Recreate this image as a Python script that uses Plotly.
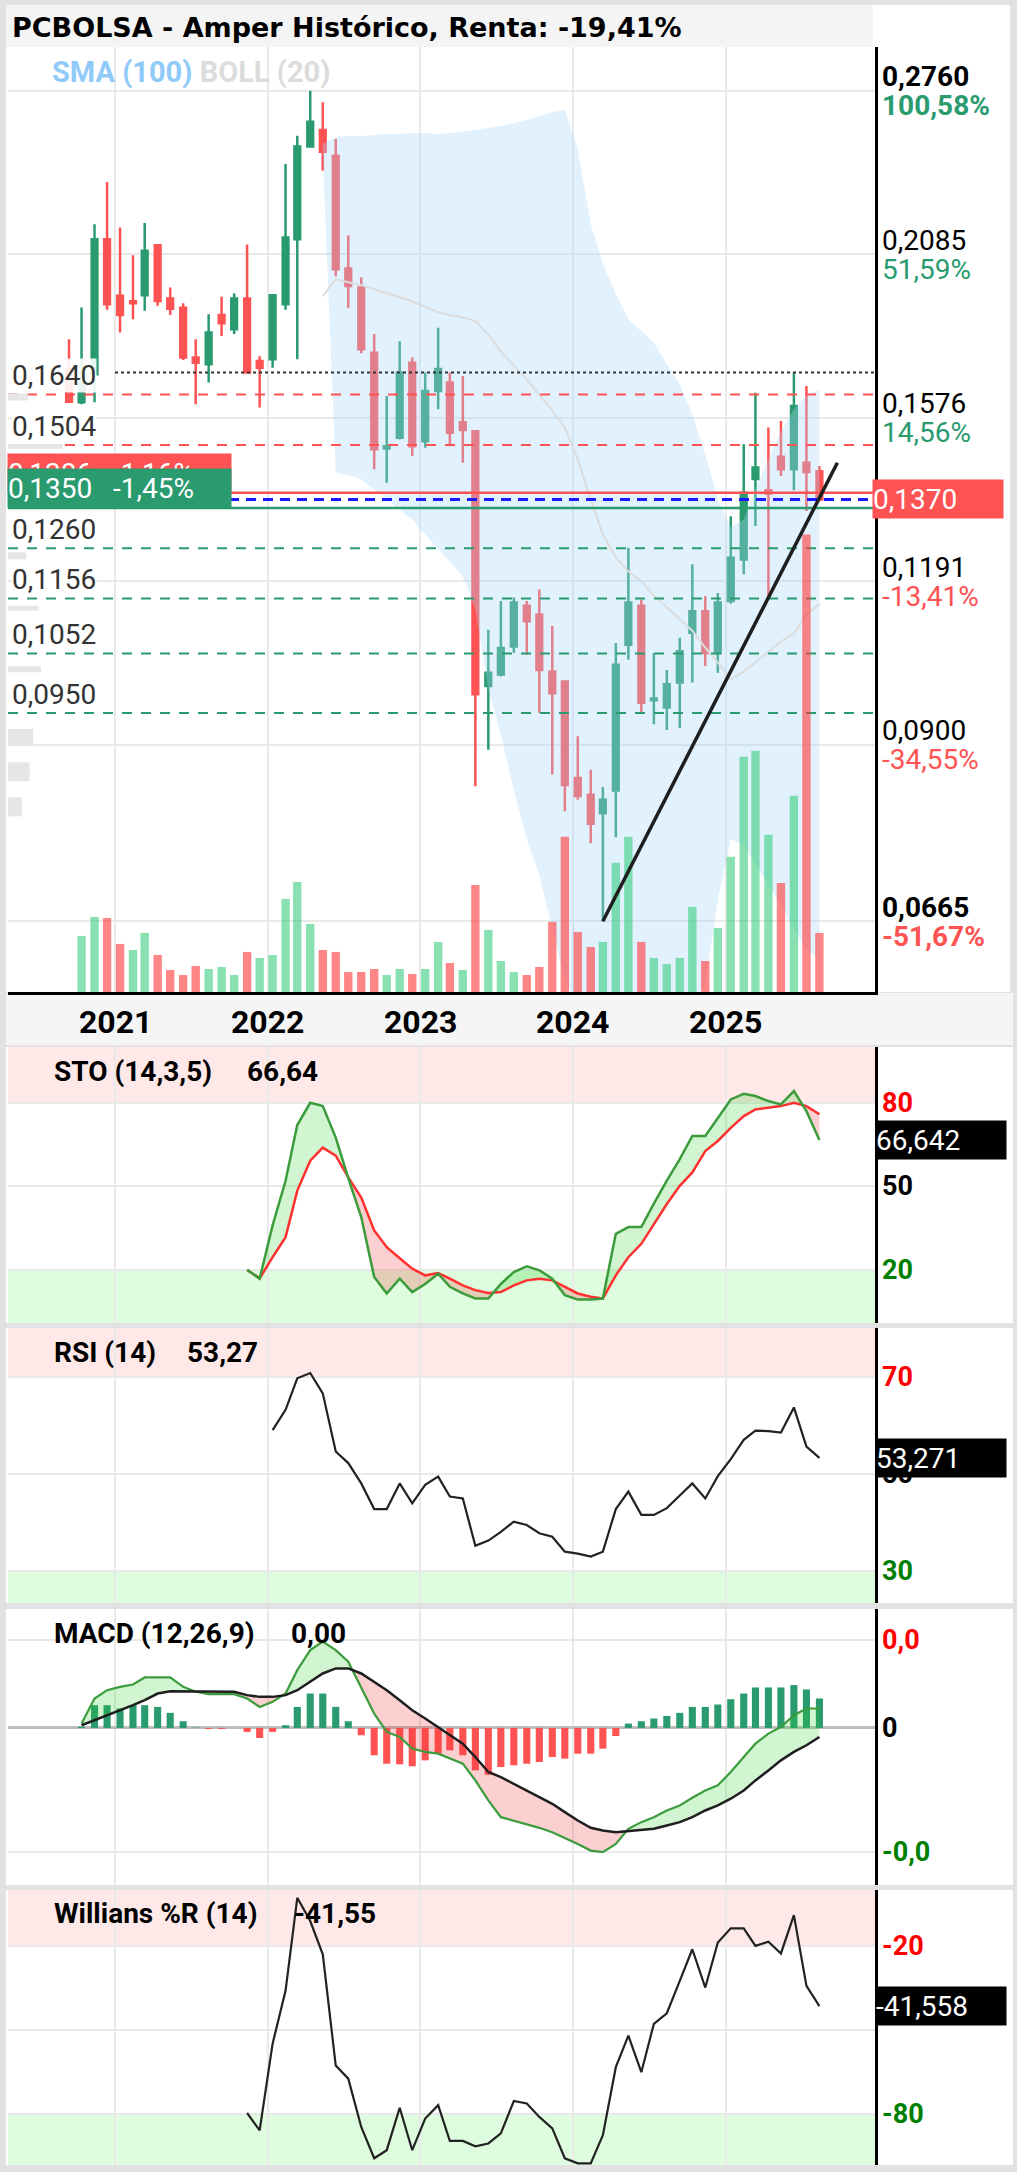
import math
import numpy as np
import pandas as pd
import plotly.graph_objects as go

W, H = 1017, 2172
def px(x): return x / W
def py(y): return 1 - y / H

# ---------------- data ----------------
month_dates = [d.strftime("%Y-%m-%d") for d in
               (pd.date_range("2020-09-01", "2025-08-01", freq="MS") + pd.Timedelta(days=12))]

open_ = [0.1713, 0.1618, 0.1698, 0.2140, 0.1942, 0.1924, 0.1944, 0.2118, 0.1933, 0.1903,
         0.1747, 0.1727, 0.1879, 0.1834, 0.1933, 0.1737, 0.1742, 0.1914, 0.2140, 0.2509,
         0.2581, 0.2469, 0.2035, 0.1970, 0.1762, 0.1495, 0.1523, 0.1732, 0.1514, 0.1650,
         0.1674, 0.1564, 0.1540, 0.0995, 0.1015, 0.1065, 0.1142, 0.1125, 0.1020, 0.1003,
         0.0850, 0.0826, 0.0800, 0.0832, 0.1068, 0.1142, 0.0971, 0.0959, 0.1001, 0.1090,
         0.1131, 0.1053, 0.1151, 0.1236, 0.1419, 0.1392, 0.1474, 0.1443, 0.1459, 0.1438]
high = [0.1803, 0.1904, 0.2196, 0.2361, 0.2183, 0.2082, 0.2200, 0.2122, 0.1970, 0.1918,
        0.1803, 0.1882, 0.1939, 0.1951, 0.2121, 0.1751, 0.1947, 0.2434, 0.2555, 0.2760,
        0.2706, 0.2541, 0.2155, 0.2004, 0.1819, 0.1636, 0.1797, 0.1747, 0.1703, 0.1839,
        0.1703, 0.1693, 0.1542, 0.1096, 0.1151, 0.1158, 0.1151, 0.1174, 0.1103, 0.1005,
        0.0913, 0.0862, 0.0837, 0.1071, 0.1261, 0.1154, 0.1053, 0.1023, 0.1081, 0.1226,
        0.1161, 0.1167, 0.1331, 0.1506, 0.1645, 0.1550, 0.1567, 0.1703, 0.1664, 0.1451]
low = [0.1617, 0.1613, 0.1618, 0.1896, 0.1824, 0.1866, 0.1893, 0.1909, 0.1879, 0.1740,
       0.1613, 0.1674, 0.1813, 0.1819, 0.1701, 0.1604, 0.1717, 0.1896, 0.1742, 0.2505,
       0.2406, 0.2008, 0.1903, 0.1760, 0.1443, 0.1410, 0.1518, 0.1476, 0.1497, 0.1599,
       0.1501, 0.1459, 0.0838, 0.0892, 0.1012, 0.1053, 0.1050, 0.0950, 0.0855, 0.0803,
       0.0819, 0.0760, 0.0665, 0.0768, 0.1041, 0.0950, 0.0932, 0.0923, 0.0926, 0.1001,
       0.1030, 0.1018, 0.1146, 0.1205, 0.1309, 0.1161, 0.1426, 0.1392, 0.1343, 0.1370]
close = [0.1620, 0.1669, 0.2140, 0.1914, 0.1879, 0.1918, 0.2098, 0.1925, 0.1900, 0.1747,
         0.1732, 0.1824, 0.1853, 0.1933, 0.1703, 0.1717, 0.1944, 0.2146, 0.2509, 0.2617,
         0.2486, 0.2033, 0.1975, 0.1772, 0.1493, 0.1501, 0.1703, 0.1501, 0.1650, 0.1713,
         0.1536, 0.1543, 0.0981, 0.1018, 0.1062, 0.1148, 0.1112, 0.1023, 0.0983, 0.0840,
         0.0824, 0.0786, 0.0819, 0.1032, 0.1148, 0.0967, 0.0974, 0.0998, 0.1056, 0.1131,
         0.1053, 0.1148, 0.1240, 0.1386, 0.1447, 0.1384, 0.1443, 0.1608, 0.1436, 0.1370]
volume = [0.0, 5.6, 7.5, 7.4, 4.8, 4.2, 5.9, 3.7, 2.2, 1.7,
          2.6, 2.3, 2.5, 1.7, 4.0, 3.4, 3.7, 9.3, 11.0, 6.8,
          4.2, 4.0, 2.0, 2.0, 2.3, 1.7, 2.3, 1.8, 2.3, 5.0,
          2.9, 2.2, 10.7, 6.2, 3.1, 2.0, 1.7, 2.5, 7.0, 15.5,
          6.0, 4.5, 5.0, 12.9, 15.5, 5.0, 3.4, 2.8, 3.4, 8.5,
          3.1, 6.4, 13.5, 23.5, 24.1, 15.7, 10.9, 19.6, 45.7, 5.9]
volume_side = ["r", "g", "g", "r", "r", "g", "g", "r", "r", "r",
               "r", "g", "g", "g", "r", "g", "g", "g", "g", "g",
               "r", "r", "r", "r", "r", "g", "g", "r", "g", "g",
               "r", "g", "r", "g", "g", "g", "r", "r", "r", "r",
               "r", "r", "g", "g", "g", "r", "g", "g", "g", "g",
               "r", "g", "g", "g", "g", "g", "r", "g", "r", "r"]

# volume-by-price profile (left edge)
profile_price = [0.1633, 0.1500, 0.1244, 0.1137, 0.1024, 0.0911, 0.0859, 0.0809]
profile_size = [2.3, 6.3, 2.1, 3.5, 3.8, 2.9, 2.5, 1.6]
profile_thick = [7, 5, 7, 5, 6, 17, 19, 19]

# Bollinger (20) from May 2022 (index 20)
boll_upper = [0.2519, 0.2550, 0.2554, 0.2554, 0.2559, 0.2563, 0.2563, 0.2567, 0.2567, 0.2563,
              0.2567, 0.2572, 0.2580, 0.2589, 0.2598, 0.2611, 0.2625, 0.2643, 0.2661, 0.2670,
              0.2497, 0.2196, 0.2051, 0.1947, 0.1866, 0.1828, 0.1794, 0.1727, 0.1669, 0.1585,
              0.1480, 0.1370, 0.1306, 0.1324, 0.1394, 0.1467, 0.1540, 0.1599, 0.1638, 0.1655]
boll_mid = [0.1941, 0.1998, 0.1988, 0.1978, 0.1964, 0.1951, 0.1938, 0.1924, 0.1905, 0.1888,
            0.1879, 0.1872, 0.1860, 0.1818, 0.1766, 0.1724, 0.1683, 0.1638, 0.1596, 0.1550,
            0.1467, 0.1370, 0.1290, 0.1241, 0.1211, 0.1191, 0.1162, 0.1139, 0.1115, 0.1094,
            0.1063, 0.1036, 0.1006, 0.1020, 0.1036, 0.1055, 0.1074, 0.1089, 0.1125, 0.1145]
boll_lower = [0.2480, 0.1435, 0.1428, 0.1418, 0.1394, 0.1370, 0.1347, 0.1324, 0.1290, 0.1258,
              0.1232, 0.1201, 0.1135, 0.0989, 0.0916, 0.0833, 0.0765, 0.0720, 0.0656, 0.0602,
              0.0572, 0.0560, 0.0520, 0.0500, 0.0500, 0.0510, 0.0520, 0.0540, 0.0560, 0.0580,
              0.0597, 0.0690, 0.0765, 0.0758, 0.0733, 0.0708, 0.0684, 0.0656, 0.0634, 0.0623]

# Stochastic (14,3,5) from Nov 2021 (index 14)
sto_k = [20.1, 16.9, 36, 52, 72, 80, 78.8, 67.5, 53, 39, 17.5, 11.6, 16.9, 12.1, 15, 18.7,
         14, 11.6, 9.8, 9.8, 15, 19.3, 21.3, 19.9, 16.9, 11, 9.4, 9.4, 9.8, 33, 35.4, 35.4,
         43.8, 52.1, 59.8, 68.1, 68.1, 74.6, 81.2, 83.2, 82.4, 80.6, 79.4, 84.2, 77, 66.64]
sto_d = [20, 17, 24.6, 31.8, 48.5, 59.2, 63.9, 61, 53.2, 46, 34.2, 28.2, 24.2, 20.5, 18.1, 18.9,
         16.9, 14.5, 12.8, 11.8, 12.1, 14.5, 16.3, 16.9, 16.3, 14, 11.6, 10.4, 9.8, 18.1, 24.6, 29.4,
         36.6, 43.7, 50.2, 55, 62.7, 66.3, 71, 75.2, 77.6, 78.2, 78.8, 80, 78.8, 75.9]

# RSI (14) from Jan 2022 (index 16)
rsi = [59, 63.2, 69.7, 70.8, 66.6, 54.6, 52.2, 48, 42.7, 42.7, 48, 43.9,
       47.7, 49.4, 45.3, 44.9, 35.1, 36.2, 38, 40.1, 39.4, 37.7, 37, 33.9,
       33.5, 32.9, 33.9, 42.7, 46.3, 41.5, 41.5, 42.9, 45.5, 48, 44.9, 49.5,
       53, 57, 58.9, 58.8, 58.5, 63.7, 55.6, 53.27]

# MACD (12,26,9) from Oct 2020 (index 1)
macd = [0.00035, 0.00238, 0.00305,
        0.00332, 0.00351, 0.00408, 0.00408, 0.00408, 0.00332, 0.00292, 0.00273, 0.00273, 0.00273, 0.00238, 0.0017,
        0.00211, 0.00278, 0.00467, 0.00629, 0.00697, 0.00629, 0.00535, 0.00332, 0.00116, -0.00032, -0.00073, -0.00167,
        -0.00194, -0.00208, -0.00248, -0.00289, -0.00424, -0.00586, -0.00721, -0.00748, -0.00775, -0.00807, -0.00842, -0.00888,
        -0.00937, -0.00991, -0.01004, -0.00937, -0.00815, -0.00761, -0.00721, -0.00667, -0.00626, -0.00564, -0.00505, -0.00464,
        -0.00356, -0.00235, -0.00127, -0.00046, 0.00008, 0.00103, 0.00157, 0.00157]
macd_signal = [0.00022, 0.00062, 0.00103,
               0.00143, 0.00184, 0.00224, 0.00278, 0.00297, 0.00297, 0.00297, 0.00297, 0.00297, 0.00292, 0.00265, 0.00251,
               0.00251, 0.00265, 0.00305, 0.00373, 0.0044, 0.00481, 0.00481, 0.0044, 0.00373, 0.00305, 0.00224, 0.00143,
               0.00076, 0.00008, -0.00059, -0.00127, -0.00235, -0.00356, -0.00397, -0.00451, -0.00505, -0.00559, -0.00613, -0.0068,
               -0.00748, -0.00807, -0.00829, -0.00842, -0.00834, -0.00829, -0.00815, -0.00788, -0.00761, -0.00721, -0.00667, -0.00626,
               -0.00572, -0.00505, -0.00424, -0.00343, -0.00262, -0.00194, -0.0014, -0.00073]
macd_hist = [0.0001, 0.00184, 0.00184,
             0.00157, 0.00184, 0.00184, 0.0017, 0.00122, 0.00054, 0.00003, -0.00008, -0.00008, 0.0, -0.00032, -0.00081,
             -0.00032, 0.00022, 0.0017, 0.00278, 0.00278, 0.0017, 0.00054, -0.00059, -0.00221, -0.00289, -0.00294, -0.0031,
             -0.00262, -0.00208, -0.00181, -0.00221, -0.00343, -0.00378, -0.00316, -0.00302, -0.00289, -0.00275, -0.00235, -0.00248,
             -0.00208, -0.00208, -0.00167, -0.00065, 0.00035, 0.00054, 0.00076, 0.00097, 0.00122, 0.0017, 0.0017, 0.00189,
             0.00232, 0.00278, 0.00327, 0.00327, 0.00327, 0.00346, 0.00311, 0.00238]

# Williams %R (14) from Nov 2021 (index 14)
willr = [-79.8, -86, -55, -36, -2.8, -11.1, -23, -62.8, -67.5, -84.8, -96, -93.1, -77.9, -93.1,
         -81.8, -77, -89.8, -89.8, -91.7, -90.7, -87.1, -75.5, -76.4, -81.2, -85.3, -96,
         -97.8, -97.8, -87.7, -63.4, -52.1, -65.2, -47.9, -44.1, -32.5, -21.2, -34.9, -18.8,
         -13.7, -13.7, -20, -18.5, -22.7, -9, -34.3, -41.56]

# levels and labels
right_levels = [0.2760, 0.2085, 0.1576, 0.1191, 0.0900, 0.0665]
right_level_txt = ["0,2760", "0,2085", "0,1576", "0,1191", "0,0900", "0,0665"]
right_pct_txt = ["100,58%", "51,59%", "14,56%", "-13,41%", "-34,55%", "-51,67%"]
resist_levels = [0.1640, 0.1504]
support_levels = [0.1260, 0.1156, 0.1052, 0.0950]
recent_high = 0.1703
line_red = 0.1386
line_blue = 0.1370
line_green = 0.1350
trend_x = ["2024-03-13", "2025-09-25"]
trend_y = [0.0665, 0.1459]
years = ["2021", "2022", "2023", "2024", "2025"]
indicator_names = ["STO (14,3,5)", "RSI (14)", "MACD (12,26,9)", "Willians %R (14)"]
indicator_values = ["66,64", "53,27", "0,00", "-41,55"]

# ---------------- style ----------------
GREEN = "#299b6f"
RED = "#ff5252"
GRID = "#e9e9e9"
FONT = "Roboto"
XR = ["2020-04-20", "2025-12-24"]
XD = [px(8), px(875)]
YEAR_TICKS = [f"{y}-01-01" for y in years]
MAIN_RANGE = [math.log10(0.0589), math.log10(0.2975)]

fig = go.Figure()

def idx_dates(start):
    return month_dates[start:]

# Bollinger band
bd = idx_dates(20)
fig.add_trace(go.Scatter(x=bd, y=boll_upper, mode="lines", line=dict(width=0, color="#d6ebfb"),
                         xaxis="x", yaxis="y", hoverinfo="skip"))
fig.add_trace(go.Scatter(x=bd, y=boll_lower, mode="lines", line=dict(width=0, color="#d6ebfb"),
                         fill="tonexty", fillcolor="rgba(170,215,248,0.35)",
                         xaxis="x", yaxis="y", hoverinfo="skip"))
fig.add_trace(go.Scatter(x=bd, y=boll_mid, mode="lines", line=dict(width=2, color="#dcdcdc"),
                         xaxis="x", yaxis="y", hoverinfo="skip"))

# volume profile bars at the left edge
for p, s, t in zip(profile_price, profile_size, profile_thick):
    fig.add_trace(go.Scatter(x=[0, s], y=[p, p], mode="lines", line=dict(color="#e6e6e6", width=t),
                             xaxis="x6", yaxis="y", hoverinfo="skip"))

# horizontal levels
def hline(y, color, dash, width, x0=XR[0], x1=XR[1], axis="y"):
    fig.add_trace(go.Scatter(x=[x0, x1], y=[y, y], mode="lines",
                             line=dict(color=color, dash=dash, width=width),
                             xaxis="x", yaxis=axis, hoverinfo="skip"))

for lv in resist_levels:
    hline(lv, RED, "10px,9px", 2)
for lv in support_levels:
    hline(lv, GREEN, "10px,9px", 2)
hline(recent_high, "#333333", "3px,3px", 2, x0="2021-01-01")
hline(line_red, RED, "solid", 2.5)
hline(line_green, GREEN, "solid", 2.5)
hline(line_blue, "#1a1aff", "10px,7px", 3)

# candles
fig.add_trace(go.Candlestick(
    x=month_dates, open=open_, high=high, low=low, close=close,
    increasing=dict(line=dict(color=GREEN, width=2.5), fillcolor=GREEN),
    decreasing=dict(line=dict(color=RED, width=2.5), fillcolor=RED),
    whiskerwidth=0, xaxis="x", yaxis="y", hoverinfo="skip"))

# volume
vcol = ["rgba(40,200,115,0.55)" if s == "g" else "rgba(255,60,60,0.62)" for s in volume_side]
fig.add_trace(go.Bar(x=month_dates, y=volume, marker=dict(color=vcol, line=dict(width=0)),
                     width=20 * 86400000, xaxis="x", yaxis="y2", hoverinfo="skip"))

# trend line
fig.add_trace(go.Scatter(x=trend_x, y=trend_y, mode="lines", line=dict(color="#1e1e1e", width=3.5),
                         xaxis="x", yaxis="y7", hoverinfo="skip"))

# ---------- helper for two-colour fills ----------
def split_fill(xs, a, b):
    t = pd.to_datetime(pd.Series(xs)).astype("int64").to_numpy() / 1e6
    X, A, B = [t[0]], [a[0]], [b[0]]
    for i in range(1, len(t)):
        d0 = a[i - 1] - b[i - 1]
        d1 = a[i] - b[i]
        if d0 * d1 < 0:
            f = d0 / (d0 - d1)
            xc = t[i - 1] + f * (t[i] - t[i - 1])
            yc = a[i - 1] + f * (a[i] - a[i - 1])
            X.append(xc); A.append(yc); B.append(yc)
        X.append(t[i]); A.append(a[i]); B.append(b[i])
    return pd.to_datetime(np.array(X), unit="ms"), np.array(A), np.array(B)

def two_fill(xs, a, b, xa, ya, up, dn):
    X, A, B = split_fill(xs, a, b)
    for top, col in ((np.maximum(A, B), up), (np.minimum(A, B), dn)):
        fig.add_trace(go.Scatter(x=X, y=B, mode="lines", line=dict(width=0), xaxis=xa, yaxis=ya, hoverinfo="skip"))
        fig.add_trace(go.Scatter(x=X, y=top, mode="lines", line=dict(width=0), fill="tonexty",
                                 fillcolor=col, xaxis=xa, yaxis=ya, hoverinfo="skip"))

UPF = "rgba(40,210,40,0.22)"
DNF = "rgba(240,40,40,0.22)"
LG = "#3c9c3c"
LR = "#ff3030"

# STO
sd = idx_dates(14)
two_fill(sd, sto_k, sto_d, "x2", "y3", UPF, DNF)
fig.add_trace(go.Scatter(x=sd, y=sto_d, mode="lines", line=dict(color=LR, width=2.5), xaxis="x2", yaxis="y3", hoverinfo="skip"))
fig.add_trace(go.Scatter(x=sd, y=sto_k, mode="lines", line=dict(color=LG, width=2.5), xaxis="x2", yaxis="y3", hoverinfo="skip"))

# RSI
fig.add_trace(go.Scatter(x=idx_dates(16), y=rsi, mode="lines", line=dict(color="#222222", width=2.2),
                         xaxis="x3", yaxis="y4", hoverinfo="skip"))

# MACD
md = idx_dates(1)
hcol = [GREEN if v >= 0 else RED for v in macd_hist]
fig.add_trace(go.Bar(x=md, y=macd_hist, marker=dict(color=hcol, line=dict(width=0)), width=17 * 86400000,
                     xaxis="x4", yaxis="y5", hoverinfo="skip"))
two_fill(md, macd, macd_signal, "x4", "y5", UPF, DNF)
fig.add_trace(go.Scatter(x=md, y=macd, mode="lines", line=dict(color=LG, width=2.2), xaxis="x4", yaxis="y5", hoverinfo="skip"))
fig.add_trace(go.Scatter(x=md, y=macd_signal, mode="lines", line=dict(color="#1e1e1e", width=2.5), xaxis="x4", yaxis="y5", hoverinfo="skip"))

# Williams
fig.add_trace(go.Scatter(x=idx_dates(14), y=willr, mode="lines", line=dict(color="#222222", width=2.2),
                         xaxis="x5", yaxis="y6", hoverinfo="skip"))

# ---------------- layout ----------------
panels = {  # name: (top px, bottom px, range, grid ticks)
    "3": (1047, 1323, [1, 100], [20, 50, 80]),
    "4": (1328, 1603, [23.3, 80.1], [30, 50, 70]),
    "5": (1609, 1885, [-0.01269, 0.00961], [-0.0100, 0.0071]),
    "6": (1890, 2165, [-98.4, 0], [-80, -50, -20]),
}

def xax(anchor, line=False):
    return dict(domain=XD, anchor=anchor, type="date", range=XR, tickvals=YEAR_TICKS,
                showticklabels=False, showgrid=True, gridcolor=GRID, gridwidth=2, ticks="",
                zeroline=False, showline=line, linecolor="black", linewidth=3,
                rangeslider=dict(visible=False), fixedrange=True)

layout = dict(
    width=W, height=H, margin=dict(l=0, r=0, t=0, b=0),
    paper_bgcolor="#e2e2e2", plot_bgcolor="rgba(0,0,0,0)",
    showlegend=False, hovermode=False, font=dict(family=FONT, color="black"),
    xaxis=xax("y", line=True),
    yaxis=dict(domain=[py(992), py(47)], anchor="x", type="log", range=MAIN_RANGE, side="right",
               tickvals=right_levels, showticklabels=False, showgrid=True, gridcolor=GRID, gridwidth=2,
               ticks="", zeroline=False, showline=True, linecolor="black", linewidth=3),
    yaxis2=dict(overlaying="y", anchor="x", range=[0, 94.4], visible=False),
    yaxis7=dict(overlaying="y", anchor="x", type="log", range=MAIN_RANGE, visible=False),
    xaxis6=dict(overlaying="x", anchor="y", range=[0, 100], visible=False, domain=XD),
)
for i, (k, (top, bot, rng, tv)) in enumerate(panels.items()):
    xn = f"xaxis{i + 2}"
    layout[xn] = xax(f"y{k}")
    layout[f"yaxis{k}"] = dict(domain=[py(bot), py(top)], anchor=f"x{i + 2}", range=rng, side="right",
                               tickvals=tv, showticklabels=False, showgrid=True, gridcolor=GRID, gridwidth=2,
                               ticks="", zeroline=(k == "5"), zerolinecolor="#bdbdbd", zerolinewidth=3,
                               showline=True, linecolor="black", linewidth=3)

shapes = []
def prect(x0, y0, x1, y1, color):
    shapes.append(dict(type="rect", xref="paper", yref="paper", x0=px(x0), x1=px(x1), y0=py(y1), y1=py(y0),
                       fillcolor=color, line=dict(width=0), layer="below"))

prect(6, 5, 1010, 992, "white")
prect(6, 5, 873, 47, "#f4f4f4")
prect(6, 993, 1013, 1045, "#f5f5f5")
for k, (top, bot, rng, tv) in panels.items():
    prect(6, top, 1013, bot, "white")

PINK = "#ffe8e8"
LGREEN = "#defcde"
def band(i, ya, y0, y1, color):
    shapes.append(dict(type="rect", xref=f"x{i} domain", yref=ya, x0=0, x1=1, y0=y0, y1=y1,
                       fillcolor=color, line=dict(width=0), layer="below"))
band(2, "y3", 80, 100, PINK); band(2, "y3", 1, 20, LGREEN)
band(3, "y4", 70, 80.1, PINK); band(3, "y4", 23.3, 30, LGREEN)
band(5, "y6", -20, 0, PINK); band(5, "y6", -98.4, -80, LGREEN)
layout["shapes"] = shapes

ann = []
def A(text, x, y, xref="paper", yref="paper", size=28, color="black", xanchor="left",
      yanchor="middle", yshift=0, family=FONT, **kw):
    d = dict(text=text, x=x, y=y, xref=xref, yref=yref, showarrow=False, xanchor=xanchor,
             yanchor=yanchor, yshift=yshift, font=dict(family=family, size=size, color=color))
    d.update(kw)
    ann.append(d)

A("<b>PCBOLSA - Amper Histórico, Renta: -19,41%</b>", px(10), py(27), size=27, family="DejaVu Sans")
A('<b><span style="color:#90caf9">SMA (100)</span> <span style="color:#dcdcdc">BOLL (20)</span></b>',
  px(50), py(72), size=29)

# right price scale labels
for i, (lv, t1, t2) in enumerate(zip(right_levels, right_level_txt, right_pct_txt)):
    bold = i in (0, len(right_levels) - 1)
    pc = GREEN if lv > 0.1376 else RED
    A(f"<b>{t1}</b>" if bold else t1, px(880), math.log10(lv), yref="y", yshift=14, size=28)
    A(f"<b>{t2}</b>" if bold else t2, px(880), math.log10(lv), yref="y", yshift=-15, size=28, color=pc)

# left level labels
for lv in [0.1640, 0.1504] + support_levels:
    A(f"{lv:.4f}".replace(".", ","), px(11), math.log10(lv), yref="y", yshift=19, size=28,
      color="#333333", bgcolor="rgba(255,255,255,0.9)", borderpad=0)

# left value boxes
A("0,1386&nbsp;&nbsp;&nbsp;-1,16%", px(7), math.log10(line_red), yref="y", yanchor="bottom", size=28,
  color="white", bgcolor=RED, width=223, height=38, align="left", borderpad=0)
A("0,1350&nbsp;&nbsp;&nbsp;-1,45%", px(7), math.log10(line_green), yref="y", yanchor="bottom", size=28,
  color="white", bgcolor=GREEN, width=223, height=38, align="left", borderpad=0)
# right current price box
A("0,1370", px(872), math.log10(line_blue), yref="y", size=28, color="white", bgcolor=RED,
  width=130, height=38, align="left", borderpad=0)

# year labels
for y in years:
    A(f"<b>{y}</b>", f"{y}-01-01", py(1022), xref="x", size=32, xanchor="center")

# indicator titles (name + current value)
title_y = [1071, 1352, 1633, 1913]
value_x = [245, 185, 289, 292]
for name, val, ty, vx in zip(indicator_names, indicator_values, title_y, value_x):
    A(f"<b>{name}</b>", px(52), py(ty), size=28)
    A(f"<b>{val}</b>", px(vx), py(ty), size=28)

# indicator right labels
def rlab(txt, val, ya, color):
    A(f"<b>{txt}</b>", px(880), val, yref=ya, size=27, color=color)
def vbox(txt, val, ya):
    A(txt, px(875), val, yref=ya, size=28, color="white", bgcolor="black", width=130, height=38,
      align="left", borderpad=0)

rlab("80", 80, "y3", "#ff0000"); rlab("50", 50, "y3", "black"); rlab("20", 20, "y3", "#008000")
vbox("66,642", sto_k[-1], "y3")
rlab("70", 70, "y4", "#ff0000"); rlab("50", 50, "y4", "black"); rlab("30", 30, "y4", "#008000")
vbox("53,271", rsi[-1], "y4")
rlab("0,0", 0.0071, "y5", "#ff0000"); rlab("0", 0, "y5", "black"); rlab("-0,0", -0.0100, "y5", "#008000")
rlab("-20", -20, "y6", "#ff0000"); rlab("-80", -80, "y6", "#008000")
vbox("-41,558", willr[-1], "y6")

layout["annotations"] = ann
fig.update_layout(**layout)
fig.write_html("out.html", config={"displayModeBar": False, "staticPlot": True},
               post_script="document.body.style.margin='0px';document.body.style.padding='0px';")
